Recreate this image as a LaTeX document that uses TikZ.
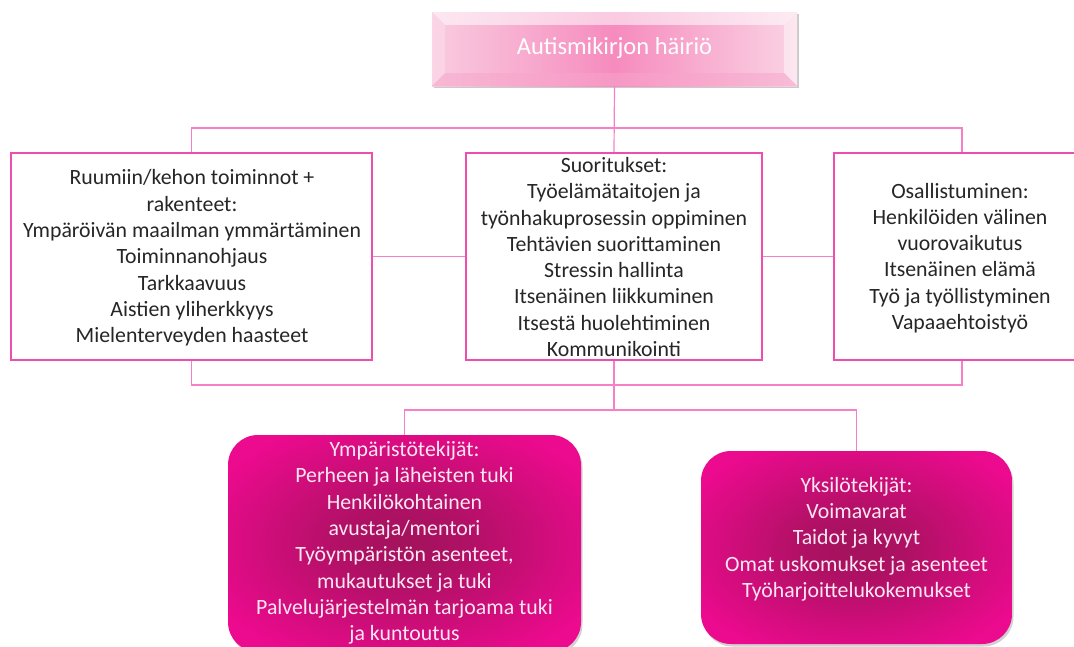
\documentclass[tikz,border=0pt]{standalone}
\usepackage{fontspec}
\setmainfont{Carlito}
\usetikzlibrary{shadows,calc}
\definecolor{conn}{HTML}{F77FC8}
\definecolor{bord}{HTML}{EE4FAE}
\definecolor{mag}{HTML}{EC0A8E}
\definecolor{magdark}{HTML}{A3125C}
\definecolor{txtw}{HTML}{FCE6F1}
\definecolor{pinkA}{HTML}{F9CCE0}
\definecolor{pinkB}{HTML}{F68BBE}
\definecolor{pinkC}{HTML}{FAD3E4}
\pgfdeclareradialshading{magrad}{\pgfpoint{0bp}{0bp}}{color(0bp)=(magdark); color(8bp)=(magdark!85!mag); color(30bp)=(mag); color(50bp)=(mag)}
\begin{document}
\begin{tikzpicture}[x=1pt,y=-1pt,
  conn/.style={draw=conn,line width=1.2pt},
  wbox/.style={draw=bord,line width=2pt,fill=white,inner sep=0pt},
  txt/.style={align=center,font=\fontsize{21.8}{26.3}\selectfont,text=black!85,inner sep=0pt},
  wtxt/.style={txt,text=txtw},
  mbox/.style={rounded corners=30pt,inner sep=0pt,shading=magrad,
     drop shadow={shadow xshift=1.5pt,shadow yshift=-2.5pt,opacity=0.3,fill=black!60}},
  topbox/.style={inner sep=0pt,left color=pinkA,right color=pinkC,middle color=pinkB,
     drop shadow={shadow xshift=1.5pt,shadow yshift=-2pt,opacity=0.35,fill=black!60}}
]
\useasboundingbox (0,0) rectangle (1074,646);
\clip (0,0) rectangle (1074,646);

% top box
\node[topbox,minimum width=365pt,minimum height=74pt] (top) at (614.5,49) {};
\fill[white,opacity=0.55] (top.north west) -- (top.north east) -- ($(top.north east)+(-13,13)$) -- ($(top.north west)+(13,13)$) -- cycle;
\fill[pinkA!70!white,opacity=0.6] (top.north west) -- ($(top.north west)+(13,13)$) -- ($(top.south west)+(13,-13)$) -- (top.south west) -- cycle;
\fill[white,opacity=0.45] (top.north east) -- ($(top.north east)+(-13,13)$) -- ($(top.south east)+(-13,-13)$) -- (top.south east) -- cycle;
\fill[pinkB!60!pinkA,opacity=0.5] (top.south west) -- ($(top.south west)+(13,-13)$) -- ($(top.south east)+(-13,-13)$) -- (top.south east) -- cycle;
\node[wtxt,text=white,font=\fontsize{24.5}{28}\selectfont] (topT) at (614.5,48) {Autismikirjon häiriö};

% middle row boxes
\node[wbox,minimum width=361pt,minimum height=207pt] (body) at (191.5,256.5) {};
\node[wbox,minimum width=296pt,minimum height=207pt] (act) at (614,256.5) {};
\node[wbox,minimum width=256pt,minimum height=207pt] (part) at (962,256.5) {};

\node[txt] (bodyT) at (192,258) {Ruumiin/kehon toiminnot +\\rakenteet:\\Ympäröivän maailman ymmärtäminen\\Toiminnanohjaus\\Tarkkaavuus\\Aistien yliherkkyys\\Mielenterveyden haasteet};
\node[txt] (actT) at (614,257) {Suoritukset:\\Työelämätaitojen ja\\työnhakuprosessin oppiminen\\Tehtävien suorittaminen\\Stressin hallinta\\Itsenäinen liikkuminen\\Itsestä huolehtiminen\\Kommunikointi};
\node[txt] (partT) at (960,258) {Osallistuminen:\\Henkilöiden välinen\\vuorovaikutus\\Itsenäinen elämä\\Työ ja työllistyminen\\Vapaaehtoistyö};

% bottom boxes
\node[mbox,minimum width=353pt,minimum height=217pt] (env) at (404.5,543.5) {};
\node[mbox,minimum width=311pt,minimum height=193pt] (pers) at (856.5,547.5) {};
\node[wtxt] (envT) at (404.5,543) {Ympäristötekijät:\\Perheen ja läheisten tuki\\Henkilökohtainen\\avustaja/mentori\\Työympäristön asenteet,\\mukautukset ja tuki\\Palvelujärjestelmän tarjoama tuki\\ja kuntoutus};
\node[wtxt] (persT) at (856.5,539) {Yksilötekijät:\\Voimavarat\\Taidot ja kyvyt\\Omat uskomukset ja asenteet\\Työharjoittelukokemukset};

% connectors
\coordinate (hTop) at (614,128);
\coordinate (hBot) at (614,385);
\coordinate (hLow) at (614,410);
\draw[conn] (top.south) -- (act.north);
\draw[conn] (body.north) -- (body.north |- hTop) -- (part.north |- hTop) -- (part.north);
\draw[conn] (body.east) -- (act.west);
\draw[conn] (act.east) -- (part.west);
\draw[conn] (body.south) -- (body.south |- hBot) -- (part.south |- hBot) -- (part.south);
\draw[conn] (act.south) -- (hLow);
\draw[conn] (env.north) -- (env.north |- hLow) -- (pers.north |- hLow) -- (pers.north);
\end{tikzpicture}
\end{document}
